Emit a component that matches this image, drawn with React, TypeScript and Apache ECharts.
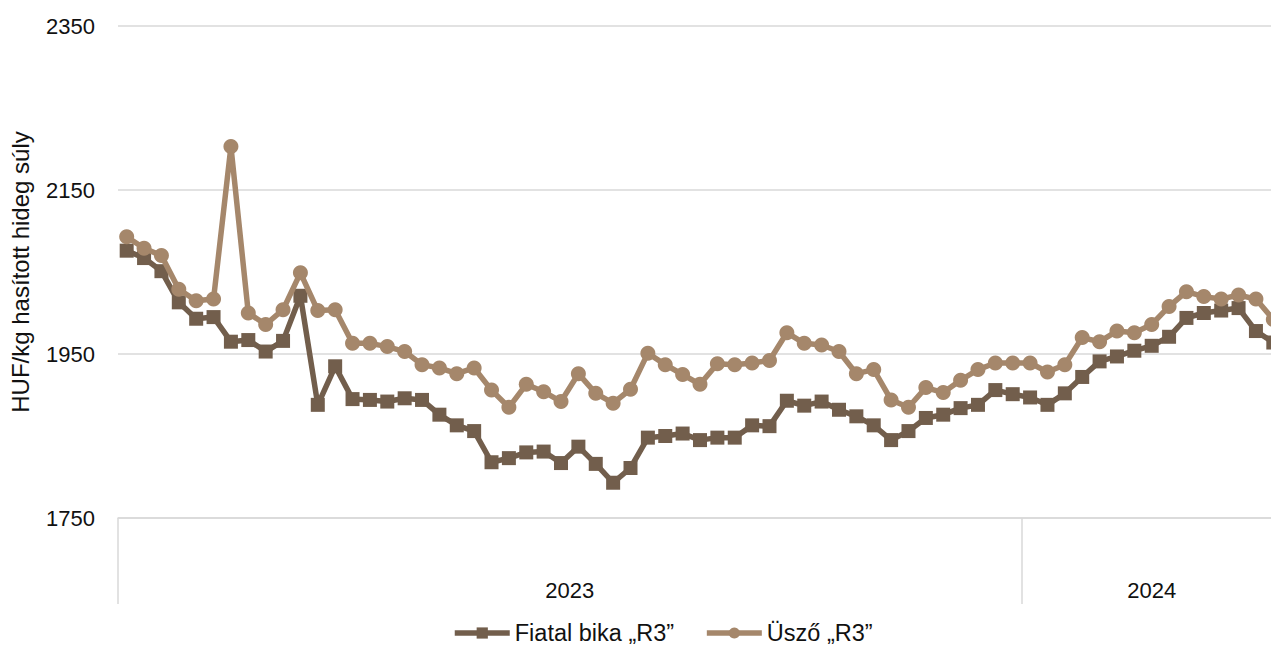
import React, { useEffect, useRef } from 'react';
import * as echarts from 'echarts';

const weeks = [
  '1', '2', '3', '4', '5', '6', '7', '8', '9', '10', '11', '12', '13', '14', '15', '16', '17', '18', '19', '20',
  '21', '22', '23', '24', '25', '26', '27', '28', '29', '30', '31', '32', '33', '34', '35', '36', '37', '38', '39', '40',
  '41', '42', '43', '44', '45', '46', '47', '48', '49', '50', '51', '52',
  '1', '2', '3', '4', '5', '6', '7', '8', '9', '10', '11', '12', '13', '14', '15',
];
const years = ['2023', '2024'];
const weeksPerYear = [52, 15];
const yTicks = [1750, 1950, 2150, 2350];

const fiatalBika = [
  2076, 2067, 2051, 2013, 1993, 1995, 1965, 1967, 1953, 1966,
  2021, 1888, 1935, 1895, 1894, 1892, 1896, 1894, 1876, 1863,
  1856, 1818, 1823, 1830, 1831, 1817, 1837, 1816, 1793, 1811,
  1848, 1850, 1853, 1845, 1848, 1848, 1863, 1862, 1893, 1887,
  1892, 1882, 1874, 1863, 1845, 1856, 1872, 1876, 1884, 1888,
  1906, 1901, 1897, 1888, 1902, 1922, 1941, 1947, 1954, 1960,
  1971, 1994, 2000, 2003, 2006, 1978, 1964,
];
const uszo = [
  2093, 2079, 2070, 2029, 2015, 2017, 2203, 2000, 1986, 2004,
  2049, 2003, 2004, 1963, 1963, 1959, 1953, 1937, 1933, 1926,
  1933, 1906, 1885, 1913, 1904, 1892, 1926, 1902, 1890, 1907,
  1951, 1937, 1925, 1913, 1938, 1937, 1939, 1942, 1976, 1963,
  1961, 1953, 1926, 1931, 1894, 1885, 1909, 1903, 1918, 1931,
  1939, 1939, 1939, 1928, 1937, 1970, 1965, 1978, 1976, 1986,
  2008, 2026, 2020, 2017, 2022, 2017, 1992,
];

const seriesNames = ['Fiatal bika „R3”', 'Üsző „R3”'];
const colors = ['#725E4C', '#A5876B'];
const FONT = '"Liberation Sans", Arial, sans-serif';

export default function App() {
  const ref = useRef<HTMLDivElement>(null);
  useEffect(() => {
    if (!ref.current) return;
    const chart = echarts.init(ref.current, null, { renderer: 'svg' });
    const bounds: number[] = [0];
    weeksPerYear.forEach((n) => bounds.push(bounds[bounds.length - 1] + n));
    const centers = years.map((_, i) => (bounds[i] + bounds[i + 1]) / 2);
    const total = bounds[bounds.length - 1];

    chart.setOption({
      animation: false,
      backgroundColor: '#fff',
      textStyle: { fontFamily: FONT },
      grid: { left: 118, top: 26, bottom: 130, right: 8, containLabel: false },
      legend: {
        left: 447,
        top: 616,
        itemWidth: 55,
        itemHeight: 14,
        itemGap: 30,
        lineStyle: { width: 5.5 },
        textStyle: { fontSize: 23.5, color: '#111', fontFamily: FONT },
        data: seriesNames,
      },
      xAxis: [
        {
          type: 'category',
          data: weeks,
          boundaryGap: true,
          axisLine: { show: true, lineStyle: { color: '#d9d9d9', width: 1.5 } },
          axisTick: { show: false },
          axisLabel: { show: false },
          splitLine: { show: false },
        },
        {
          type: 'value',
          min: 0,
          max: total,
          position: 'bottom',
          axisLine: { show: false },
          splitLine: { show: false },
          axisTick: {
            show: true,
            customValues: bounds,
            length: 86,
            lineStyle: { color: '#d9d9d9', width: 1.5 },
          },
          axisLabel: {
            show: true,
            customValues: centers,
            margin: 61,
            fontSize: 22,
            color: '#111',
            fontFamily: FONT,
            formatter: (v: number) => {
              const idx = centers.findIndex((c) => Math.abs(c - v) < 1e-6);
              return idx >= 0 ? years[idx] : '';
            },
          },
        },
      ],
      yAxis: {
        type: 'value',
        min: yTicks[0],
        max: yTicks[yTicks.length - 1],
        interval: yTicks[1] - yTicks[0],
        name: 'HUF/kg hasított hideg súly',
        nameLocation: 'middle',
        nameGap: 86,
        nameTextStyle: { fontSize: 24, color: '#111', fontFamily: FONT },
        axisLine: { show: false },
        axisTick: { show: false },
        axisLabel: {
          fontSize: 22,
          color: '#111',
          margin: 23,
          fontFamily: FONT,
          formatter: (v: number) => String(v),
        },
        splitLine: { show: true, lineStyle: { color: '#d9d9d9', width: 1.5 } },
      },
      series: [
        {
          name: seriesNames[0],
          type: 'line',
          data: fiatalBika,
          xAxisIndex: 0,
          symbol: 'rect',
          symbolSize: 14,
          showAllSymbol: true,
          color: colors[0],
          lineStyle: { color: colors[0], width: 5.5 },
          itemStyle: { color: colors[0] },
          z: 2,
        },
        {
          name: seriesNames[1],
          type: 'line',
          data: uszo,
          xAxisIndex: 0,
          symbol: 'circle',
          symbolSize: 15,
          showAllSymbol: true,
          color: colors[1],
          lineStyle: { color: colors[1], width: 5.5 },
          itemStyle: { color: colors[1] },
          z: 3,
        },
      ],
    });
    return () => chart.dispose();
  }, []);

  return (
    <div
      style={{
        position: 'fixed',
        left: 0,
        top: 0,
        width: 1271,
        height: 648,
        overflow: 'hidden',
        background: '#fff',
      }}
    >
      <div ref={ref} style={{ width: 1290, height: 648 }} />
    </div>
  );
}
